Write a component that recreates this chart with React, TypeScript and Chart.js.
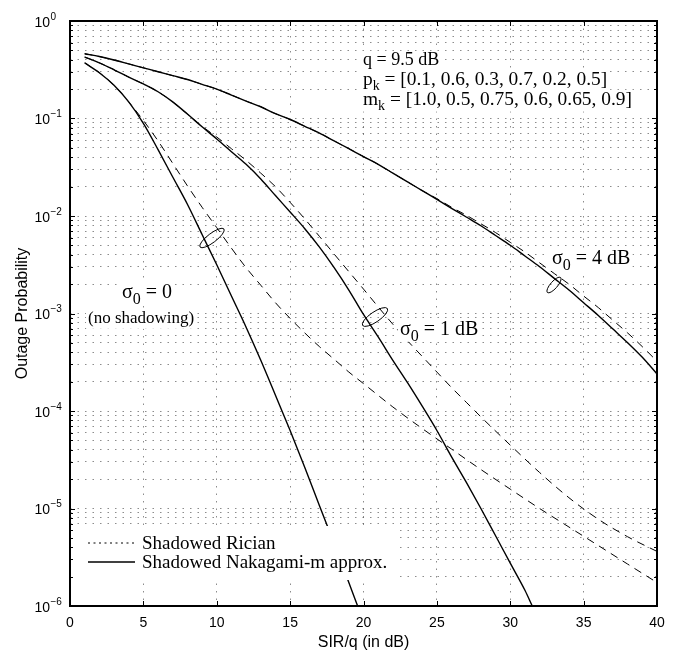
import React, { useEffect, useRef } from 'react';
import { Chart, registerables } from 'chart.js';

Chart.register(...registerables);

// ---------- data (SIR/q in dB, outage probability) ----------
const sirNak0 = [1, 2, 3, 4, 5, 6, 7, 8, 9, 10, 11, 12, 13, 14, 15, 16, 17, 18, 19, 19.6];
const outNak0 = [0.372, 0.295, 0.219, 0.148, 0.0891, 0.0479, 0.0251, 0.0132, 6.46e-3, 3.16e-3, 1.51e-3, 7.24e-4, 3.31e-4, 1.45e-4, 6.3e-5, 2.63e-5, 1.07e-5, 4.37e-6, 1.74e-6, 1.0e-6];

const sirRic0 = [1, 2, 3, 4, 5, 6, 7, 8, 9, 10, 11, 12, 13, 14, 15, 16, 17, 18, 19, 20, 22, 24, 26, 28, 30, 32, 34, 36, 38, 40];
const outRic0 = [0.372, 0.295, 0.219, 0.148, 0.0955, 0.0589, 0.0347, 0.0204, 0.0123, 7.59e-3, 4.68e-3, 2.95e-3, 1.95e-3, 1.29e-3, 8.91e-4, 6.31e-4, 4.57e-4, 3.39e-4, 2.51e-4, 1.91e-4, 1.1e-4, 6.61e-5, 4.07e-5, 2.51e-5, 1.58e-5, 1.0e-5, 6.46e-6, 4.17e-6, 2.69e-6, 1.74e-6];

const sirNak1 = [1, 2, 3, 4, 5, 6, 7, 8, 9, 10, 11, 12, 13, 14, 15, 16, 17, 18, 19, 20, 21, 22, 23, 24, 25, 26, 27, 28, 29, 30, 31, 31.5];
const outNak1 = [0.427, 0.372, 0.316, 0.266, 0.226, 0.188, 0.148, 0.111, 0.0822, 0.0617, 0.0457, 0.0339, 0.024, 0.0162, 0.011, 7.41e-3, 4.79e-3, 2.95e-3, 1.74e-3, 9.77e-4, 5.75e-4, 3.31e-4, 1.95e-4, 1.12e-4, 6.31e-5, 3.39e-5, 1.86e-5, 1.0e-5, 5.25e-6, 2.75e-6, 1.45e-6, 1.0e-6];

const sirRic1 = [1, 2, 3, 4, 5, 6, 7, 8, 9, 10, 11, 12, 13, 14, 15, 16, 17, 18, 19, 20, 21, 22, 23, 24, 25, 26, 27, 28, 30, 32, 34, 36, 38, 40];
const outRic1 = [0.427, 0.372, 0.316, 0.266, 0.226, 0.188, 0.148, 0.111, 0.0832, 0.0646, 0.049, 0.0372, 0.0275, 0.02, 0.0138, 9.33e-3, 6.17e-3, 4.07e-3, 2.69e-3, 1.78e-3, 1.17e-3, 7.76e-4, 5.25e-4, 3.63e-4, 2.51e-4, 1.74e-4, 1.23e-4, 8.71e-5, 4.47e-5, 2.34e-5, 1.29e-5, 7.76e-6, 5.13e-6, 3.63e-6];

const sirNak4 = [1, 2, 3, 4, 5, 6, 7, 8, 9, 10, 11, 12, 13, 14, 15, 16, 17, 18, 19, 20, 21, 22, 23, 24, 25, 26, 27, 28, 29, 30, 31, 32, 33, 34, 35, 36, 37, 38, 39, 40];
const outNak4 = [0.462, 0.432, 0.398, 0.363, 0.331, 0.302, 0.275, 0.251, 0.224, 0.2, 0.174, 0.151, 0.132, 0.112, 0.0977, 0.0832, 0.0708, 0.0589, 0.049, 0.0407, 0.0339, 0.0275, 0.0224, 0.0182, 0.0148, 0.012, 9.77e-3, 7.94e-3, 6.31e-3, 5.01e-3, 3.89e-3, 3.02e-3, 2.29e-3, 1.74e-3, 1.29e-3, 9.55e-4, 6.92e-4, 5.01e-4, 3.55e-4, 2.4e-4];

const sirRic4 = [1, 2, 3, 4, 5, 6, 7, 8, 9, 10, 11, 12, 13, 14, 15, 16, 17, 18, 19, 20, 21, 22, 23, 24, 25, 26, 27, 28, 29, 30, 31, 32, 33, 34, 35, 36, 37, 38, 39, 40];
const outRic4 = [0.462, 0.432, 0.398, 0.363, 0.331, 0.302, 0.275, 0.251, 0.224, 0.2, 0.174, 0.151, 0.132, 0.112, 0.0977, 0.0832, 0.0708, 0.0589, 0.049, 0.0407, 0.0339, 0.0275, 0.0224, 0.0182, 0.0151, 0.0123, 0.0102, 8.32e-3, 6.76e-3, 5.37e-3, 4.27e-3, 3.31e-3, 2.57e-3, 2.0e-3, 1.51e-3, 1.15e-3, 8.51e-4, 6.31e-4, 4.57e-4, 3.24e-4];

const xTickStep = 5;
const yDecades = [-6, -5, -4, -3, -2, -1, 0];
const legendLabels = ['Shadowed Rician', 'Shadowed Nakagami-m approx.'];
const xTitle = 'SIR/q (in dB)';
const yTitle = 'Outage Probability';

const pts = (xs: number[], ys: number[]) => xs.map((x, i) => ({ x, y: ys[i] }));

const SANS = '"Liberation Sans", Arial, Helvetica, sans-serif';
const SERIF = '"Liberation Serif", "Times New Roman", serif';

type Part = { t: string; sub?: boolean };

function richWidth(ctx: CanvasRenderingContext2D, parts: Part[], size: number, subSize: number) {
  let w = 0;
  for (const p of parts) {
    ctx.font = `${p.sub ? subSize : size}px ${SERIF}`;
    w += ctx.measureText(p.t).width;
  }
  return w;
}

function drawRich(ctx: CanvasRenderingContext2D, x: number, y: number, parts: Part[], size: number, subRatio = 0.72) {
  const subSize = Math.round(size * subRatio);
  const w = richWidth(ctx, parts, size, subSize);
  ctx.fillStyle = '#fff';
  ctx.fillRect(x - 2, y - size * 0.78, w + 4, size * 1.12);
  ctx.fillStyle = '#000';
  ctx.textAlign = 'left';
  ctx.textBaseline = 'alphabetic';
  let cx = x;
  for (const p of parts) {
    ctx.font = `${p.sub ? subSize : size}px ${SERIF}`;
    ctx.fillText(p.t, cx, p.sub ? y + size * 0.28 : y);
    cx += ctx.measureText(p.t).width;
  }
}

const matlabPlugin = {
  id: 'matlabDecor',
  afterDatasetsDraw(chart: any) {
    const ctx: CanvasRenderingContext2D = chart.ctx;
    ctx.save();
    // annotation texts
    drawRich(ctx, 363, 65, [{ t: 'q = 9.5 dB' }], 18);
    drawRich(ctx, 363, 85, [{ t: 'p' }, { t: 'k', sub: true }, { t: ' = [0.1, 0.6, 0.3, 0.7, 0.2, 0.5]' }], 19.4);
    drawRich(ctx, 363, 105, [{ t: 'm' }, { t: 'k', sub: true }, { t: ' = [1.0, 0.5, 0.75, 0.6, 0.65, 0.9]' }], 19.4);
    drawRich(ctx, 552, 264, [{ t: 'σ' }, { t: '0', sub: true }, { t: ' = 4 dB' }], 20, 0.78);
    drawRich(ctx, 400, 335, [{ t: 'σ' }, { t: '0', sub: true }, { t: ' = 1 dB' }], 20, 0.78);
    drawRich(ctx, 122, 298, [{ t: 'σ' }, { t: '0', sub: true }, { t: ' = 0' }], 20, 0.78);
    drawRich(ctx, 88, 323, [{ t: '(no shadowing)' }], 17);

    // loops marking curve groups
    ctx.strokeStyle = '#000';
    ctx.lineWidth = 1;
    ctx.setLineDash([]);
    const loops = [
      [212, 238, 15, 4.5, -0.65],
      [375, 317, 15, 5, -0.6],
      [554, 285, 10, 3.5, -0.85],
    ];
    for (const [cx, cy, rx, ry, rot] of loops) {
      ctx.beginPath();
      ctx.ellipse(cx, cy, rx, ry, rot, 0, Math.PI * 2);
      ctx.stroke();
    }

    // legend
    ctx.fillStyle = '#fff';
    ctx.fillRect(71, 526, 324, 54);
    const ds = chart.data.datasets;
    const rows = [
      { y: 543, dash: [2, 3.5], w: 1, label: legendLabels[0] },
      { y: 562, dash: [], w: 1.4, label: legendLabels[1] },
    ];
    for (const r of rows) {
      ctx.beginPath();
      ctx.setLineDash(r.dash);
      ctx.lineWidth = r.w;
      ctx.strokeStyle = ds[0].borderColor;
      ctx.moveTo(88, r.y);
      ctx.lineTo(135, r.y);
      ctx.stroke();
      ctx.setLineDash([]);
      ctx.fillStyle = '#000';
      ctx.font = `19px ${SERIF}`;
      ctx.textAlign = 'left';
      ctx.textBaseline = 'alphabetic';
      ctx.fillText(r.label, 142, r.y + 6);
    }
    ctx.restore();
  },
  afterDraw(chart: any) {
    const ctx: CanvasRenderingContext2D = chart.ctx;
    const { left, right, top, bottom } = chart.chartArea;
    const xs = chart.scales.x;
    const ys = chart.scales.y;
    ctx.save();
    ctx.setLineDash([]);
    ctx.strokeStyle = '#000';
    ctx.lineWidth = 1;
    // tick marks
    ctx.beginPath();
    for (const t of xs.ticks) {
      const px = Math.round(xs.getPixelForValue(t.value)) + 0.5;
      ctx.moveTo(px, bottom);
      ctx.lineTo(px, bottom - 5);
      ctx.moveTo(px, top);
      ctx.lineTo(px, top + 5);
    }
    for (const t of ys.ticks) {
      const py = Math.round(ys.getPixelForValue(t.value)) + 0.5;
      const len = t.major ? 5 : 3;
      ctx.moveTo(left, py);
      ctx.lineTo(left + len, py);
      ctx.moveTo(right, py);
      ctx.lineTo(right - len, py);
    }
    ctx.stroke();
    // frame
    ctx.lineWidth = 2;
    ctx.strokeRect(left, top, right - left, bottom - top);

    // x tick labels
    ctx.fillStyle = '#000';
    ctx.font = `14px ${SANS}`;
    ctx.textAlign = 'center';
    ctx.textBaseline = 'alphabetic';
    for (const t of xs.ticks) {
      ctx.fillText(String(t.value), xs.getPixelForValue(t.value), 627);
    }
    // y tick labels (10^e)
    for (const t of ys.ticks) {
      if (!t.major) continue;
      const e = Math.round(Math.log10(t.value));
      const py = ys.getPixelForValue(t.value);
      ctx.font = `14px ${SANS}`;
      ctx.textAlign = 'right';
      ctx.fillText('10', left - 20, py + 5.5);
      ctx.font = `10px ${SANS}`;
      ctx.textAlign = 'left';
      ctx.fillText(e === 0 ? '0' : '\u2212' + String(-e), left - 19.5, py - 1.5);
    }
    // axis titles
    ctx.font = `16px ${SANS}`;
    ctx.textAlign = 'center';
    ctx.fillText(xTitle, (left + right) / 2, 647);
    ctx.save();
    ctx.translate(27, (top + bottom) / 2);
    ctx.rotate(-Math.PI / 2);
    ctx.fillText(yTitle, 0, 0);
    ctx.restore();
    ctx.restore();
  },
};

export default function App() {
  const ref = useRef<HTMLCanvasElement>(null);
  useEffect(() => {
    const canvas = ref.current;
    if (!canvas) return;
    const solid = { borderColor: '#000', borderWidth: 1.4, borderDash: [] as number[] };
    const dashed = { borderColor: '#000', borderWidth: 1, borderDash: [8, 6] };
    const common = { pointRadius: 0, fill: false, cubicInterpolationMode: 'monotone' as const };
    const gridColor = 'rgba(0,0,0,0.45)';
    const chart = new Chart(canvas, {
      type: 'line',
      data: {
        datasets: [
          { label: 'σ0 = 0, Nakagami', data: pts(sirNak0, outNak0), ...solid, ...common },
          { label: 'σ0 = 0, Rician', data: pts(sirRic0, outRic0), ...dashed, ...common },
          { label: 'σ0 = 1 dB, Nakagami', data: pts(sirNak1, outNak1), ...solid, ...common },
          { label: 'σ0 = 1 dB, Rician', data: pts(sirRic1, outRic1), ...dashed, ...common },
          { label: 'σ0 = 4 dB, Nakagami', data: pts(sirNak4, outNak4), ...solid, ...common },
          { label: 'σ0 = 4 dB, Rician', data: pts(sirRic4, outRic4), ...dashed, ...common },
        ],
      },
      options: {
        animation: false,
        responsive: false,
        maintainAspectRatio: false,
        layout: { padding: { left: 0, top: 21, right: 17, bottom: 0 } },
        plugins: { legend: { display: false }, tooltip: { enabled: false } },
        scales: {
          x: {
            type: 'linear',
            min: 0,
            max: 40,
            ticks: { stepSize: xTickStep, display: false },
            grid: { color: gridColor, lineWidth: 1, drawTicks: false },
            border: { display: false, dash: [1.5, 6] },
            afterFit: (s: any) => { s.height = 44; },
          },
          y: {
            type: 'logarithmic',
            min: 1e-6,
            max: 1,
            ticks: { display: false, autoSkip: false },
            grid: { color: gridColor, lineWidth: 1, drawTicks: false },
            border: { display: false, dash: [1.5, 6] },
            afterFit: (s: any) => { s.width = 70; },
            afterBuildTicks: (s: any) => {
              const ticks: any[] = [];
              for (const e of yDecades) {
                for (let m = 1; m <= 9; m++) {
                  if (e === 0 && m > 1) break;
                  ticks.push({ value: m * Math.pow(10, e), major: m === 1 });
                }
              }
              s.ticks = ticks;
            },
          },
        },
      },
      plugins: [matlabPlugin],
    } as any);
    return () => chart.destroy();
  }, []);
  return (
    <div style={{ position: 'absolute', left: 0, top: 0, width: 674, height: 650, background: '#fff' }}>
      <canvas ref={ref} width={674} height={650} style={{ display: 'block', width: 674, height: 650 }} />
    </div>
  );
}
